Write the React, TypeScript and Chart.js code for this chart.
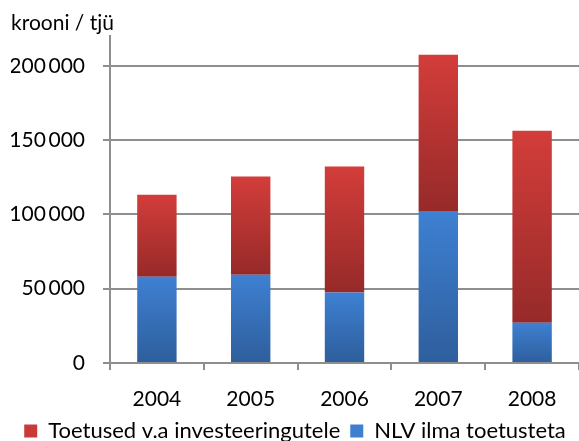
import React, { useEffect, useRef } from "react";
import { Chart, registerables } from "chart.js";

Chart.register(...registerables);

const years = ["2004", "2005", "2006", "2007", "2008"];
const nlvValues = [58100, 59400, 47500, 101800, 27100];
const toetusedValues = [55200, 66200, 84800, 105700, 129200];
const yTicks = [0, 50000, 100000, 150000, 200000];
const yMax = 220000;

const FONT = "Lato, 'Open Sans', sans-serif";

function fmt(v: number) {
  return v === 0 ? "0" : v.toLocaleString("en-US").replace(/,/g, "\u2009");
}

function gradientFor(ctx: any, base: number[], vals: number[], top: string, bottom: string) {
  const chart = ctx.chart;
  const area = chart.chartArea;
  const y = chart.scales?.y;
  if (!area || !y || ctx.dataIndex === undefined) return top;
  const i = ctx.dataIndex;
  const b = base[i];
  const t = base[i] + vals[i];
  const yb = y.getPixelForValue(b);
  const yt = y.getPixelForValue(t);
  if (!isFinite(yb) || !isFinite(yt) || yb === yt) return top;
  const g = chart.ctx.createLinearGradient(0, yt, 0, yb);
  g.addColorStop(0, top);
  g.addColorStop(1, bottom);
  return g;
}

export default function App() {
  const ref = useRef<HTMLCanvasElement>(null);
  useEffect(() => {
    if (!ref.current) return;
    const zeros = years.map(() => 0);
    const chart = new Chart(ref.current, {
      type: "bar",
      data: {
        labels: years,
        datasets: [
          {
            label: "NLV ilma toetusteta",
            data: nlvValues,
            backgroundColor: (c: any) => gradientFor(c, zeros, nlvValues, "#3E80D2", "#2E5E9C"),
            borderWidth: 0,
            barPercentage: 0.42,
            categoryPercentage: 1,
          },
          {
            label: "Toetused v.a investeeringutele",
            data: toetusedValues,
            backgroundColor: (c: any) => gradientFor(c, nlvValues, toetusedValues, "#D33D3A", "#962A29"),
            borderWidth: 0,
            barPercentage: 0.42,
            categoryPercentage: 1,
          },
        ],
      },
      options: {
        animation: false,
        responsive: false,
        maintainAspectRatio: false,
        layout: { padding: { left: 11, right: 0, top: 0, bottom: -11 } },
        scales: {
          x: {
            stacked: true,
            offset: true,
            afterFit: (s: any) => {
              s.height = 47;
            },
            grid: {
              display: true,
              drawOnChartArea: false,
              drawTicks: true,
              tickLength: 7,
              color: "#8E8E8E",
              lineWidth: 2,
            },
            border: { display: true, color: "#8E8E8E", width: 2 },
            ticks: {
              color: "#000",
              font: { family: FONT, size: 21 },
              padding: 17,
            },
          },
          y: {
            stacked: true,
            min: 0,
            max: yMax,
            afterFit: (s: any) => {
              s.width = 99;
            },
            afterBuildTicks: (axis: any) => {
              axis.ticks = yTicks.map((v) => ({ value: v }));
            },
            grid: {
              color: "#8E8E8E",
              lineWidth: 2,
              drawTicks: true,
              tickLength: 7,
            },
            border: { display: true, color: "#8E8E8E", width: 2 },
            ticks: {
              color: "#000",
              font: { family: FONT, size: 21 },
              padding: 18,
              callback: (v: any) => fmt(Number(v)),
            },
          },
        },
        plugins: {
          title: {
            display: true,
            text: "krooni / tjü",
            align: "start",
            color: "#000",
            font: { family: FONT, size: 21, weight: "normal" },
            padding: { top: 11, bottom: 0 },
          },
          legend: {
            position: "bottom",
            reverse: true,
            labels: {
              boxWidth: 13,
              boxHeight: 13,
              padding: 10,
              color: "#000",
              font: { family: FONT, size: 22 },
              generateLabels: (ch: any) =>
                ch.data.datasets.map((d: any, i: number) => ({
                  text: d.label,
                  fillStyle: i === 0 ? "#3E7FCF" : "#C83A37",
                  strokeStyle: "transparent",
                  lineWidth: 0,
                  datasetIndex: i,
                  hidden: false,
                })),
            },
          },
          tooltip: { enabled: false },
        },
      },
    });
    return () => chart.destroy();
  }, []);
  return (
    <div style={{ position: "fixed", left: 0, top: 0, width: 579, height: 441, background: "#fff" }}>
      <canvas ref={ref} width={579} height={441} style={{ width: 579, height: 441, display: "block" }} />
    </div>
  );
}
